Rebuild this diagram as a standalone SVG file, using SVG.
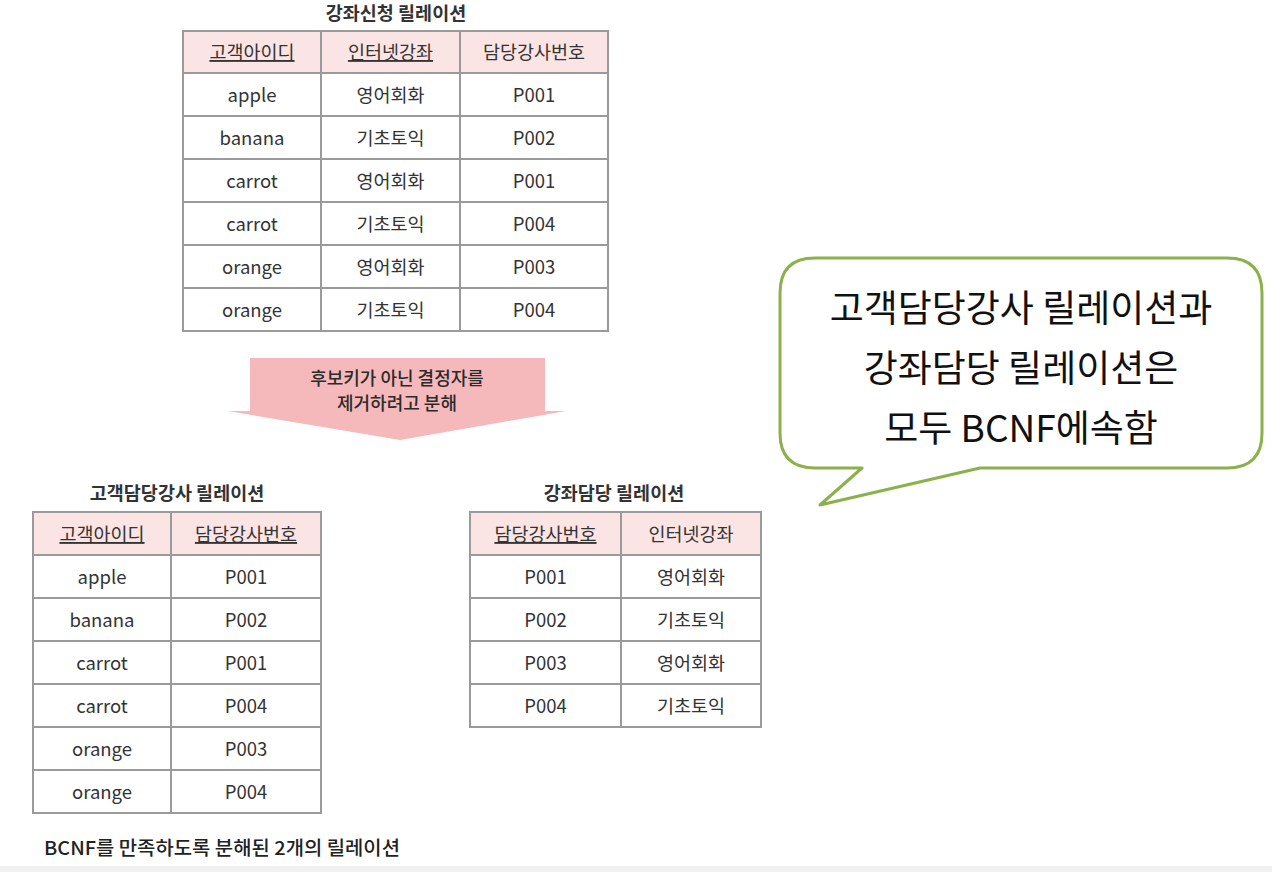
<svg xmlns="http://www.w3.org/2000/svg" width="1272" height="872" viewBox="0 0 1272 872">
<defs>
<style>
.t{font-family:"Noto Sans CJK KR","Noto Sans",sans-serif;font-size:18.5px;fill:#333;text-anchor:middle;}
.ttl{font-family:"Noto Sans CJK KR","Noto Sans",sans-serif;font-size:18.5px;font-weight:bold;fill:#333;text-anchor:middle;}
.ar{font-family:"Noto Sans CJK KR","Noto Sans",sans-serif;font-size:18px;font-weight:500;fill:#2a2a2a;text-anchor:middle;}
.u{text-decoration:underline;}
.hd{fill:#fbe4e4;}
.g{stroke:#9a9a9a;stroke-width:2;fill:none;}
.b{font-family:"Noto Sans CJK KR","Noto Sans",sans-serif;font-size:37px;fill:#111;text-anchor:middle;}
</style>
</defs>
<rect width="1272" height="872" fill="#ffffff"/>
<rect x="0" y="866" width="1272" height="6" fill="#f1f1f1"/>

<g id="table-course-application">
<text class="ttl" x="396" y="20">강좌신청 릴레이션</text>
<rect class="hd" x="183" y="31" width="425" height="42"/>
<rect class="g" x="183" y="31" width="425" height="300"/>
<path class="g" d="M321 31V331M460 31V331M183 73H608M183 116H608M183 159H608M183 202H608M183 245H608M183 288H608"/>
<text class="t u" x="252" y="59">고객아이디</text>
<text class="t u" x="390.5" y="59">인터넷강좌</text>
<text class="t" x="534" y="59">담당강사번호</text>
<text class="t" x="252" y="102">apple</text><text class="t" x="390.5" y="102">영어회화</text><text class="t" x="534" y="102">P001</text>
<text class="t" x="252" y="145">banana</text><text class="t" x="390.5" y="145">기초토익</text><text class="t" x="534" y="145">P002</text>
<text class="t" x="252" y="188">carrot</text><text class="t" x="390.5" y="188">영어회화</text><text class="t" x="534" y="188">P001</text>
<text class="t" x="252" y="231">carrot</text><text class="t" x="390.5" y="231">기초토익</text><text class="t" x="534" y="231">P004</text>
<text class="t" x="252" y="274">orange</text><text class="t" x="390.5" y="274">영어회화</text><text class="t" x="534" y="274">P003</text>
<text class="t" x="252" y="317">orange</text><text class="t" x="390.5" y="317">기초토익</text><text class="t" x="534" y="317">P004</text>
</g>

<g id="decompose-arrow">
<path d="M250 358H545V411H566L400 440L228 411H250Z" fill="#f5b9bc"/>
<text class="ar" x="397" y="385">후보키가 아닌 결정자를</text>
<text class="ar" x="397" y="410">제거하려고 분해</text>
</g>

<g id="table-customer-instructor">
<text class="ttl" x="177" y="500">고객담당강사 릴레이션</text>
<rect class="hd" x="33" y="512" width="288" height="43"/>
<rect class="g" x="33" y="512" width="288" height="301"/>
<path class="g" d="M171 512V813M33 555H321M33 598H321M33 641H321M33 684H321M33 727H321M33 770H321"/>
<text class="t u" x="102" y="541">고객아이디</text>
<text class="t u" x="246" y="541">담당강사번호</text>
<text class="t" x="102" y="584">apple</text><text class="t" x="246" y="584">P001</text>
<text class="t" x="102" y="627">banana</text><text class="t" x="246" y="627">P002</text>
<text class="t" x="102" y="670">carrot</text><text class="t" x="246" y="670">P001</text>
<text class="t" x="102" y="713">carrot</text><text class="t" x="246" y="713">P004</text>
<text class="t" x="102" y="756">orange</text><text class="t" x="246" y="756">P003</text>
<text class="t" x="102" y="799">orange</text><text class="t" x="246" y="799">P004</text>
</g>

<g id="table-course-instructor">
<text class="ttl" x="614" y="500">강좌담당 릴레이션</text>
<rect class="hd" x="470" y="512" width="291" height="43"/>
<rect class="g" x="470" y="512" width="291" height="215"/>
<path class="g" d="M621 512V727M470 555H761M470 598H761M470 641H761M470 684H761"/>
<text class="t u" x="545.5" y="541">담당강사번호</text>
<text class="t" x="691" y="541">인터넷강좌</text>
<text class="t" x="545.5" y="584">P001</text><text class="t" x="691" y="584">영어회화</text>
<text class="t" x="545.5" y="627">P002</text><text class="t" x="691" y="627">기초토익</text>
<text class="t" x="545.5" y="670">P003</text><text class="t" x="691" y="670">영어회화</text>
<text class="t" x="545.5" y="713">P004</text><text class="t" x="691" y="713">기초토익</text>
</g>

<g id="caption">
<text class="ttl" style="text-anchor:start;font-size:19px;font-weight:500;fill:#222" x="44" y="855" textLength="356" lengthAdjust="spacingAndGlyphs">BCNF를 만족하도록 분해된 2개의 릴레이션</text>
</g>

<g id="speech-bubble">
<path d="M815 258H1227Q1262 258 1262 293V433Q1262 468 1227 468H980L820 505L862 468H815Q780 468 780 433V293Q780 258 815 258Z" fill="#ffffff" stroke="#8cb04b" stroke-width="3" stroke-linejoin="round"/>
<text class="b" x="1021" y="322">고객담당강사 릴레이션과</text>
<text class="b" x="1021" y="382">강좌담당 릴레이션은</text>
<text class="b" x="1021" y="442">모두 BCNF에속함</text>
</g>
</svg>
